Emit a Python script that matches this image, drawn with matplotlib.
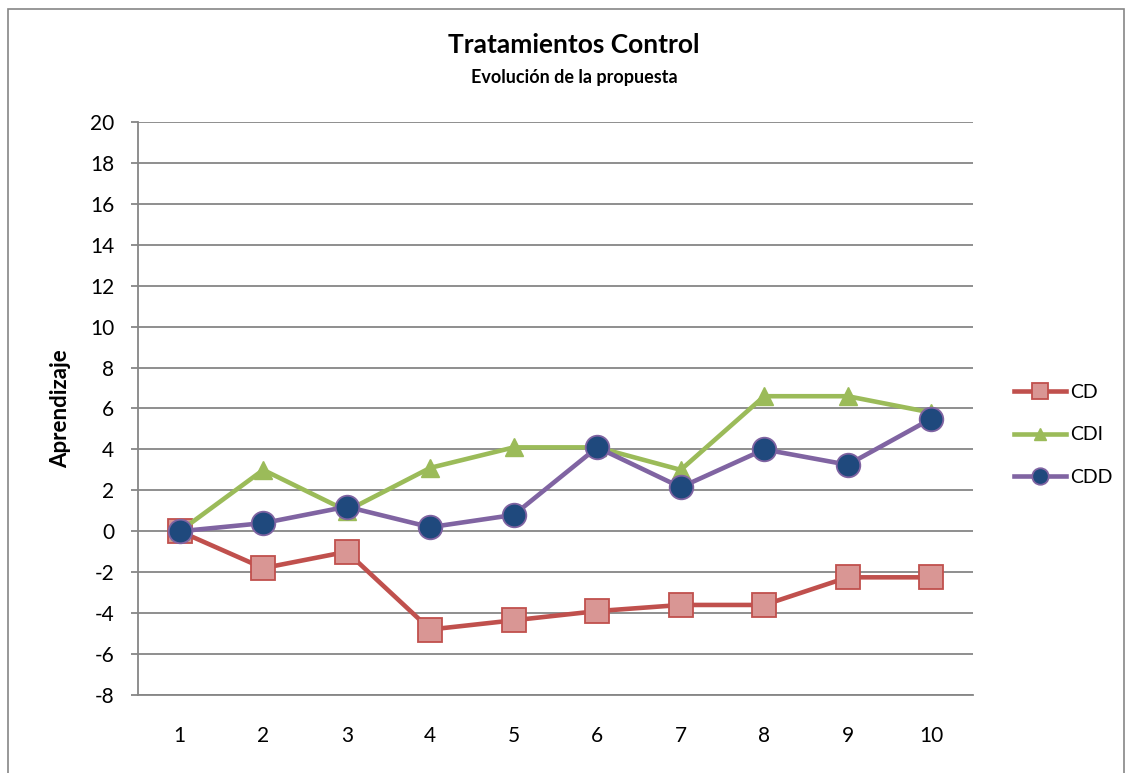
import matplotlib.pyplot as plt
from matplotlib.patches import Rectangle

plt.rcParams['font.family'] = ['Lato', 'DejaVu Sans']
plt.rcParams['axes.unicode_minus'] = False

x = [1, 2, 3, 4, 5, 6, 7, 8, 9, 10]
cd = [0, -1.8, -1.0, -4.8, -4.35, -3.9, -3.6, -3.6, -2.25, -2.25]
cdi = [0, 3.0, 1.0, 3.1, 4.1, 4.1, 3.0, 6.6, 6.6, 5.8]
cdd = [0, 0.4, 1.2, 0.2, 0.8, 4.1, 2.15, 4.0, 3.25, 5.5]
yticks = list(range(-8, 21, 2))

fig = plt.figure(figsize=(11.33, 7.73), dpi=100)
fig.patches.append(Rectangle((8 / 1133, -0.05), 1116 / 1133, 1.05 - 9 / 773,
                             transform=fig.transFigure, fill=False,
                             edgecolor='#868686', linewidth=1.2))
ax = fig.add_axes([138 / 1133, 1 - 695 / 773, 835 / 1133, 573 / 773])

ax.plot(x, cd, color='#C0504D', linewidth=3.3, marker='s', markersize=17,
        markerfacecolor='#D99694', markeredgecolor='#C0504D', markeredgewidth=1.3,
        label='CD', zorder=3)
ax.plot(x, cdi, color='#9BBB59', linewidth=3.3, marker='^', markersize=13,
        markerfacecolor='#9BBB59', markeredgecolor='#9BBB59',
        label='CDI', zorder=4)
ax.plot(x, cdd, color='#8064A2', linewidth=3.3, marker='o', markersize=17,
        markerfacecolor='#1F497D', markeredgecolor='#8064A2', markeredgewidth=1.3,
        label='CDD', zorder=5)

ax.set_xlim(0.5, 10.5)
ax.set_ylim(-8, 20)
ax.set_xticks(x)
ax.set_yticks(yticks)
ax.grid(axis='y', color='#868686', linewidth=1.3)
ax.set_axisbelow(True)
for s in ['top', 'right']:
    ax.spines[s].set_visible(False)
ax.spines['left'].set_color('#868686')
ax.spines['left'].set_linewidth(1.3)
ax.spines['bottom'].set_color('#868686')
ax.spines['bottom'].set_linewidth(1.3)
ax.tick_params(axis='x', length=0, labelsize=15, pad=22)
ax.tick_params(axis='y', length=5, width=1.3, color='#868686', labelsize=15, pad=12)

ax.set_ylabel('Aprendizaje', fontsize=16, fontweight='bold', labelpad=14)

fig.text(574 / 1133, 1 - 45 / 773, 'Tratamientos Control', fontsize=19,
         fontweight='bold', ha='center', va='center')
fig.text(574 / 1133, 1 - 77 / 773, 'Evolución de la propuesta', fontsize=13,
         fontweight='bold', ha='center', va='center')

ax.legend(loc='center left', bbox_to_anchor=(1.028, 0.454), frameon=False,
          fontsize=14, handlelength=2.7, labelspacing=1.3, handletextpad=0.2,
          markerscale=0.7)

fig.savefig('out.png', dpi=100)
